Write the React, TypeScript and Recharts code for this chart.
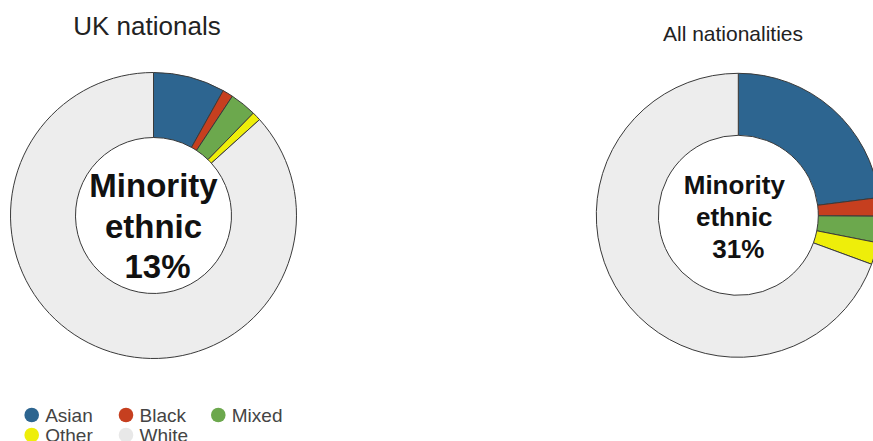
import React from 'react';
import { PieChart, Pie, Cell, Legend } from 'recharts';

// Ethnic group shares (%), drawn clockwise from 12 o'clock
const CATEGORIES = ['Asian', 'Black', 'Mixed', 'Other', 'White'];
const COLORS = ['#2d6590', '#c63f1f', '#6ca84d', '#eeee0a', '#ededed'];
const UK_VALUES = [8.1, 1.2, 3.0, 1.0, 86.7];
const ALL_VALUES = [23.0, 2.1, 3.0, 2.5, 69.4];
const TITLES = ['UK nationals', 'All nationalities'];
const CENTER_WORDS = ['Minority', 'ethnic'];

const FONT = '"Liberation Sans", Arial, Helvetica, sans-serif';
const WIDTH = 873;
const HEIGHT = 441;

const toRows = (values: number[]) =>
  CATEGORIES.map((name, i) => ({ name, value: values[i] }));

const minorityShare = (values: number[]) =>
  Math.round(values.slice(0, 4).reduce((a, b) => a + b, 0));

const charts = [
  {
    title: TITLES[0],
    values: UK_VALUES,
    cx: 153.5,
    cy: 215.5,
    inner: 78,
    outer: 143,
    titleX: 147,
    titleY: 35,
    titleSize: 26,
    textSize: 33,
    lineGap: 40.5,
    firstLine: -18.5,
    wordShift: 0,
    pctShift: 4,
  },
  {
    title: TITLES[1],
    values: ALL_VALUES,
    cx: 738.3,
    cy: 215.3,
    inner: 80,
    outer: 142,
    titleX: 733,
    titleY: 40.5,
    titleSize: 21,
    textSize: 26,
    lineGap: 32,
    firstLine: -21.5,
    wordShift: -4,
    pctShift: 0,
  },
];

const LegendBox = () => {
  const colX = [31.7, 126, 218.3];
  return (
    <svg width={300} height={41} style={{ display: 'block' }}>
      {CATEGORIES.map((name, i) => {
        const col = i % 3;
        const row = Math.floor(i / 3);
        const x = colX[col];
        const y = 15 + row * 20;
        return (
          <g key={name}>
            <circle cx={x} cy={y} r={7.3} fill={name === 'White' ? '#e8e8e8' : COLORS[i]} />
            <text x={x + 13.5} y={y + 6.8} fontSize={19} fontFamily={FONT} fill="#444">
              {name}
            </text>
          </g>
        );
      })}
    </svg>
  );
};

export default function App() {
  return (
    <div style={{ position: 'absolute', left: 0, top: 0, width: WIDTH, height: HEIGHT, background: '#fff' }}>
      <PieChart width={WIDTH} height={HEIGHT} margin={{ top: 0, right: 0, bottom: 0, left: 0 }}>
        {charts.map((c) => (
          <Pie
            key={c.title}
            data={toRows(c.values)}
            dataKey="value"
            nameKey="name"
            cx={c.cx}
            cy={c.cy}
            innerRadius={c.inner}
            outerRadius={c.outer}
            startAngle={90}
            endAngle={-270}
            stroke="#3a3a3a"
            strokeWidth={1}
            isAnimationActive={false}
            legendType="none"
          >
            {CATEGORIES.map((name, i) => (
              <Cell key={name} fill={COLORS[i]} />
            ))}
          </Pie>
        ))}
        {charts.map((c) => (
          <g key={`${c.title}-text`}>
            <text
              x={c.titleX}
              y={c.titleY}
              textAnchor="middle"
              fontSize={c.titleSize}
              fontFamily={FONT}
              fill="#222"
            >
              {c.title}
            </text>
            {CENTER_WORDS.map((w, k) => (
              <text
                key={w}
                x={c.cx + c.wordShift}
                y={c.cy + c.firstLine + k * c.lineGap}
                textAnchor="middle"
                fontSize={c.textSize}
                fontWeight="bold"
                fontFamily={FONT}
                fill="#111"
              >
                {w}
              </text>
            ))}
            <text
              x={c.cx + c.pctShift}
              y={c.cy + c.firstLine + 2 * c.lineGap}
              textAnchor="middle"
              fontSize={c.textSize}
              fontWeight="bold"
              fontFamily={FONT}
              fill="#111"
            >
              {`${minorityShare(c.values)}%`}
            </text>
          </g>
        ))}
        <Legend
          content={() => <LegendBox />}
          wrapperStyle={{ position: 'absolute', left: 0, top: 400, width: 300, height: 41 }}
        />
      </PieChart>
    </div>
  );
}
